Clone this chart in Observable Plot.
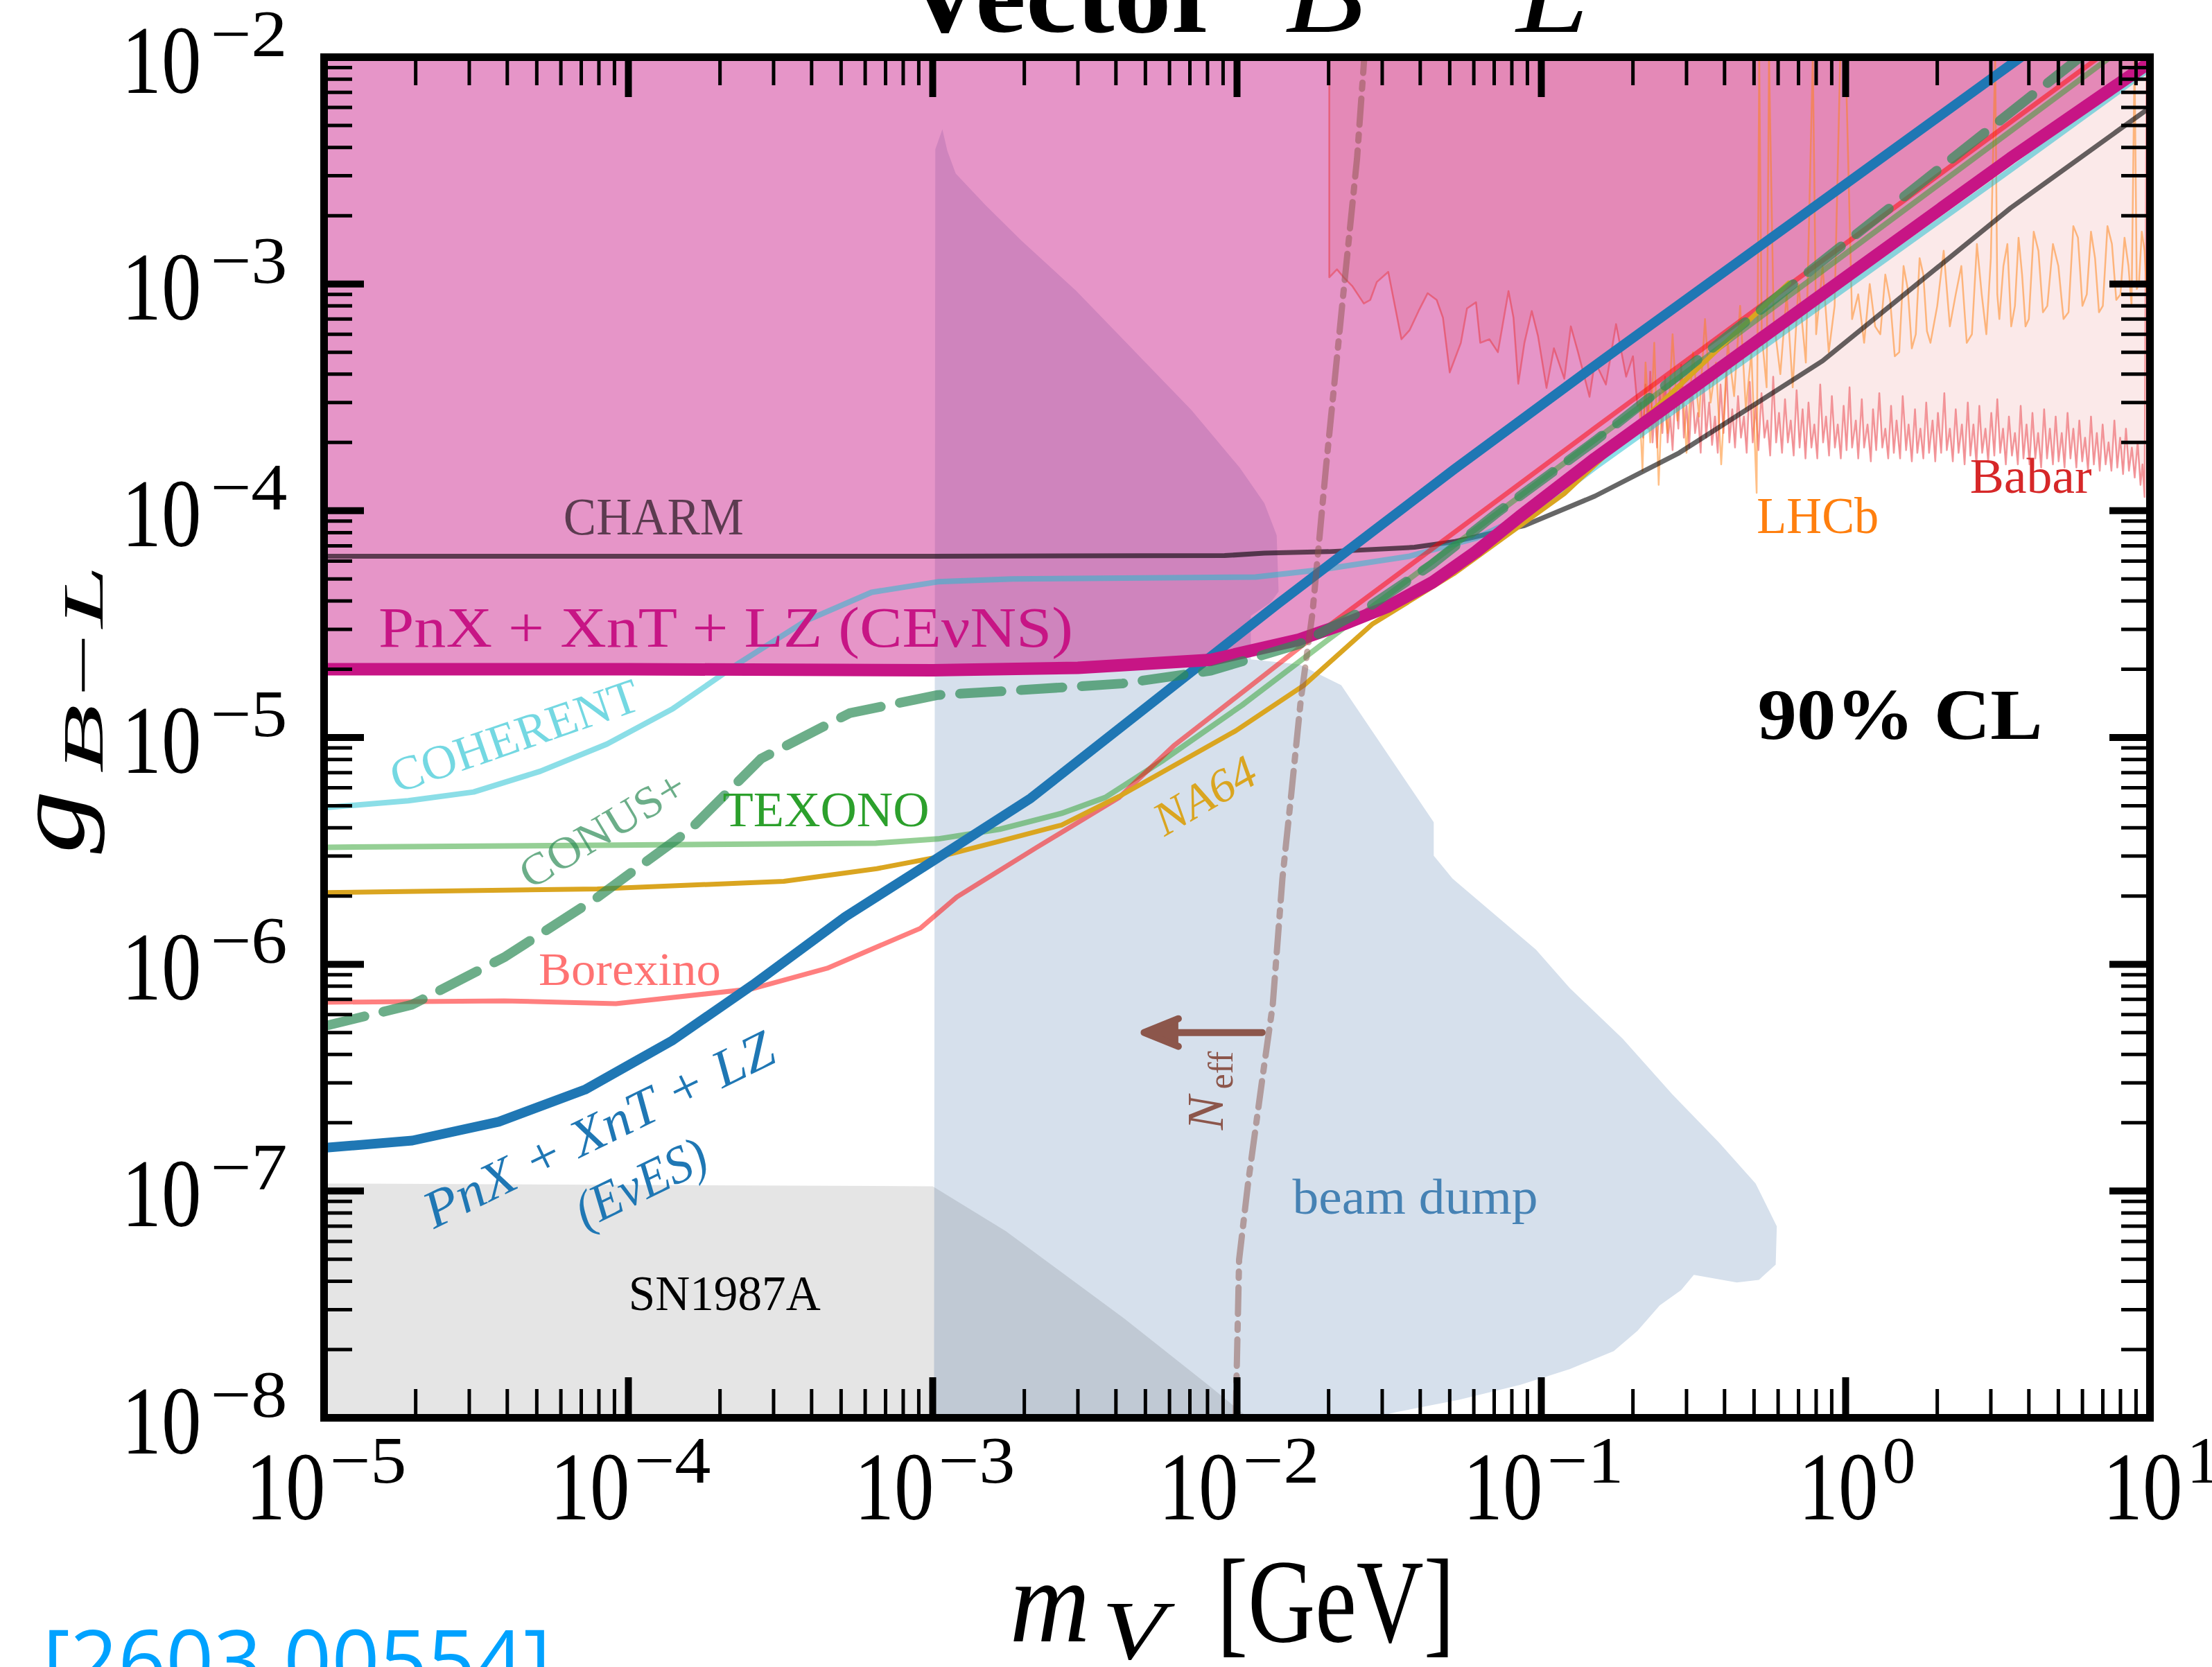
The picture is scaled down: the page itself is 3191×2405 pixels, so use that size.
<!DOCTYPE html>
<html><head><meta charset="utf-8">
<script src="https://cdn.jsdelivr.net/npm/d3@7"></script>
<script src="https://cdn.jsdelivr.net/npm/@observablehq/plot@0.6"></script>
<style>html,body{margin:0;padding:0;background:#fff;overflow:hidden}</style>
</head><body><div id="chart"></div>
<script>
// ---------------- data (m_V [GeV], g_{B-L}) ----------------
const cevns = [[1e-5,2.0e-5],[1e-4,2.0e-5],[1e-3,1.98e-5],[3e-3,2.03e-5],[8.2e-3,2.2e-5],[1.6e-2,2.7e-5],[2.24e-2,3.16e-5],[3.12e-2,3.77e-5],[4.37e-2,4.82e-5],[6.1e-2,6.6e-5],[8.55e-2,9.5e-5],[0.15,1.7e-4],[3.48,3.58e-3],[10,9.5e-3]];
const eves = [[1e-5,1.55e-7],[1.95e-5,1.67e-7],[3.75e-5,2.02e-7],[7.2e-5,2.8e-7],[1.39e-4,4.6e-7],[2.56e-4,8.1e-7],[5.16e-4,1.62e-6],[1e-3,2.85e-6],[2.1e-3,5.4e-6],[1.35e-2,3.85e-5],[5.16e-2,1.52e-4],[0.15,4.37e-4],[4.0,1.06e-2]];
const charm = [[1e-5,6.3e-5],[1e-3,6.3e-5],[9.1e-3,6.34e-5],[1.23e-2,6.5e-5],[2e-2,6.6e-5],[3.83e-2,6.9e-5],[5.16e-2,7.3e-5],[8.8e-2,8.6e-5],[0.15,1.16e-4],[0.284,1.8e-4],[0.84,4.58e-4],[3.48,2.16e-3],[10,6.0e-3]];
const coherent = [[1e-5,4.9e-6],[1.89e-5,5.26e-6],[3.1e-5,5.75e-6],[5.14e-5,7.1e-6],[8.5e-5,9.35e-6],[1.4e-4,1.34e-5],[2.31e-4,2.13e-5],[3.83e-4,3.27e-5],[6.3e-4,4.37e-5],[1.04e-3,4.86e-5],[1.83e-3,5.0e-5],[1.15e-2,5.1e-5],[1.9e-2,5.5e-5],[3.69e-2,6.3e-5],[6.1e-2,7.57e-5],[0.101,1.04e-4],[0.15,1.55e-4],[3.48,3.18e-3],[10,8.9e-3]];
const texono = [[1e-5,3.28e-6],[6.5e-4,3.42e-6],[1.04e-3,3.57e-6],[1.66e-3,3.94e-6],[2.65e-3,4.63e-6],[3.69e-3,5.44e-6],[5.65e-3,7.85e-6],[1.04e-2,1.39e-5],[2.0e-2,2.71e-5],[0.15,2.05e-4],[7.4,1.0e-2]];
const na64 = [[1e-5,2.07e-6],[7.9e-5,2.15e-6],[3.24e-4,2.32e-6],[6.55e-4,2.64e-6],[1.04e-3,2.97e-6],[1.66e-3,3.49e-6],[2.65e-3,4.11e-6],[4.1e-3,5.5e-6],[9.9e-3,1.07e-5],[1.66e-2,1.7e-5],[2.78e-2,3.16e-5],[5.16e-2,5.28e-5],[0.119,1.19e-4],[0.65,1.01e-3]];
const borexino = [[1e-5,6.8e-7],[3.9e-5,6.9e-7],[9.1e-5,6.7e-7],[2.56e-4,7.8e-7],[4.5e-4,9.6e-7],[9.1e-4,1.44e-6],[1.2e-3,1.98e-6],[2.2e-3,3.28e-6],[4.1e-3,5.44e-6],[6.2e-3,9.2e-6],[1.09e-2,1.66e-5],[1.66e-2,2.58e-5],[0.15,2.32e-4],[6.8,1.0e-2]];
const conus = [[1e-5,5.33e-7],[1.95e-5,6.64e-7],[3.94e-5,1.08e-6],[7.94e-5,1.98e-6],[1.6e-4,3.94e-6],[2.73e-4,8.07e-6],[5.33e-4,1.28e-5],[1.04e-3,1.54e-5],[1.83e-3,1.61e-5],[4.2e-3,1.73e-5],[8.2e-3,1.97e-5],[1.6e-2,2.58e-5],[2.65e-2,3.69e-5],[4.37e-2,5.8e-5],[7.23e-2,9.9e-5],[0.15,2.03e-4],[5.9,1.0e-2]];
const neff = [[9.9e-3,1e-8],[1.016e-2,4.98e-8],[1.087e-2,1.08e-7],[1.22e-2,3.36e-7],[1.31e-2,6.6e-7],[1.41e-2,2.39e-6],[1.51e-2,5.75e-6],[1.62e-2,1.46e-5],[1.77e-2,3.54e-5],[1.96e-2,1.55e-4],[2.24e-2,9.3e-4],[2.48e-2,3.58e-3],[2.62e-2,1e-2]];
const neffArrow = [{m1: 1.21e-2, m2: 4.95e-3, g: 5.0e-7}];
const beamDump = [[1.01e-3,1e-8],[1.02e-3,3.93e-3],[1.076e-3,4.81e-3],[1.117e-3,3.87e-3],[1.19e-3,3.07e-3],[1.49e-3,2.23e-3],[1.95e-3,1.56e-3],[2.96e-3,9.33e-4],[4.51e-3,5.2e-4],[7.08e-3,2.78e-4],[1.02e-2,1.55e-4],[1.23e-2,1.08e-4],[1.35e-2,7.8e-5],[1.37e-2,4.4e-5],[1.29e-2,3.94e-5],[1.11e-2,3.44e-5],[1.11e-2,2.21e-5],[1.6e-2,2.1e-5],[2.2e-2,1.7e-5],[4.43e-2,4.23e-6],[4.43e-2,3.01e-6],[5.1e-2,2.39e-6],[9.6e-2,1.16e-6],[0.124,7.86e-7],[0.185,4.7e-7],[0.27,2.66e-7],[0.383,1.64e-7],[0.506,1.08e-7],[0.594,6.99e-8],[0.589,4.74e-8],[0.519,4.06e-8],[0.439,3.95e-8],[0.317,4.27e-8],[0.288,3.66e-8],[0.245,3.13e-8],[0.207,2.42e-8],[0.173,1.97e-8],[0.124,1.64e-8],[8.55e-2,1.4e-8],[5.36e-2,1.2e-8],[3.34e-2,1.06e-8],[2.78e-2,1e-8]];
const sn1987a = [[1e-5,1e-8],[1e-5,1.08e-7],[1e-3,1.05e-7],[1.74e-3,6.65e-8],[4.26e-3,2.74e-8],[8.18e-3,1.37e-8],[1.09e-2,1e-8]];
// Babar: low-mass part (inside the pink region)
const babarLow = [[0.0201,1e-2],[0.0201,1.07e-3],[0.0213,1.16e-3],[0.0224,1.07e-3],[0.0239,9.8e-4],[0.0261,8.2e-4],[0.0274,8.5e-4],[0.0288,1.02e-3],[0.0314,1.13e-3],[0.0347,5.7e-4],[0.0369,6.25e-4],[0.0395,7.6e-4],[0.0423,9.1e-4],[0.0453,8.5e-4],[0.0475,7.1e-4],[0.050,4.07e-4],[0.0544,5.5e-4],[0.057,7.8e-4],[0.061,8.3e-4],[0.063,5.5e-4],[0.0675,5.7e-4],[0.072,5.0e-4],[0.078,9.3e-4],[0.081,7.1e-4],[0.084,3.63e-4],[0.088,5.5e-4],[0.093,7.6e-4],[0.0975,5.9e-4],[0.104,3.48e-4],[0.11,5.2e-4],[0.119,3.82e-4],[0.125,6.5e-4],[0.132,5.0e-4],[0.144,3.18e-4],[0.15,4.55e-4],[0.163,3.6e-4],[0.176,6.65e-4],[0.19,3.9e-4],[0.2,4.8e-4],[0.207,2.9e-4]];
// Babar: dense band above 0.21 GeV, g in units of 1e-4
const babarBand = [[0.212,3.0],[0.216,2.1],[0.220,3.6],[0.224,2.3],[0.228,4.1],[0.232,2.0],[0.236,2.8],[0.240,1.9],[0.245,3.3],[0.250,2.2],[0.255,3.9],[0.260,2.0],[0.265,2.6],[0.270,1.85],[0.276,3.4],[0.282,2.3],[0.288,4.4],[0.294,2.1],[0.300,2.9],[0.306,1.9],[0.313,3.5],[0.320,2.2],[0.327,2.7],[0.334,1.8],[0.341,3.8],[0.348,2.1],[0.356,3.0],[0.364,1.95],[0.372,2.6],[0.380,1.8],[0.388,3.6],[0.397,2.2],[0.406,4.2],[0.415,2.0],[0.424,2.8],[0.433,1.9],[0.443,3.2],[0.453,2.1],[0.463,2.6],[0.473,1.8],[0.484,3.7],[0.495,2.0],[0.506,2.9],[0.517,1.85],[0.529,3.3],[0.541,2.1],[0.553,2.5],[0.565,1.75],[0.578,3.9],[0.591,2.0],[0.604,2.7],[0.618,1.8],[0.632,3.1],[0.646,2.0],[0.660,2.5],[0.675,1.75],[0.690,3.4],[0.706,1.9],[0.722,2.8],[0.738,1.7],[0.755,3.0],[0.772,1.9],[0.789,2.4],[0.807,1.7],[0.825,3.6],[0.843,2.0],[0.862,2.6],[0.882,1.75],[0.901,3.2],[0.922,1.9],[0.942,2.4],[0.964,1.7],[0.985,2.9],[1.007,1.85],[1.03,3.5],[1.05,1.9],[1.08,2.5],[1.10,1.7],[1.13,3.1],[1.15,1.9],[1.18,2.4],[1.21,1.65],[1.23,2.8],[1.26,1.85],[1.29,3.3],[1.32,1.9],[1.35,2.3],[1.38,1.7],[1.41,2.9],[1.44,1.8],[1.47,2.5],[1.51,1.7],[1.54,3.2],[1.58,1.85],[1.61,2.4],[1.65,1.65],[1.69,2.8],[1.72,1.8],[1.76,2.3],[1.80,1.7],[1.84,3.0],[1.88,1.8],[1.93,2.5],[1.97,1.65],[2.01,2.7],[2.06,1.8],[2.11,3.3],[2.15,1.85],[2.20,2.3],[2.25,1.65],[2.30,2.8],[2.35,1.8],[2.41,2.4],[2.46,1.6],[2.52,3.0],[2.57,1.75],[2.63,2.4],[2.69,1.6],[2.75,2.9],[2.81,1.8],[2.88,2.3],[2.94,1.65],[3.01,2.7],[3.08,1.75],[3.15,3.1],[3.22,1.8],[3.29,2.3],[3.36,1.6],[3.44,2.6],[3.52,1.75],[3.60,2.2],[3.68,1.6],[3.76,2.9],[3.84,1.7],[3.93,2.4],[4.02,1.6],[4.11,2.7],[4.20,1.7],[4.29,2.2],[4.39,1.55],[4.49,2.8],[4.59,1.7],[4.69,2.3],[4.80,1.6],[4.90,2.6],[5.01,1.65],[5.13,2.2],[5.24,1.55],[5.36,2.7],[5.48,1.7],[5.60,2.3],[5.73,1.55],[5.86,2.5],[5.99,1.65],[6.12,2.1],[6.26,1.5],[6.40,2.6],[6.54,1.6],[6.69,2.2],[6.84,1.5],[6.99,2.4],[7.15,1.6],[7.31,2.0],[7.47,1.5],[7.64,2.5],[7.81,1.55],[7.98,2.1],[8.16,1.45],[8.34,2.3],[8.53,1.5],[8.72,1.9],[8.91,1.4],[9.11,2.0],[9.31,1.3],[9.45,1.6],[9.6,1.15],[9.75,100],[9.85,1.1],[10,1.2]];
const lhcb = [[0.21,3.0e-4],[0.215,1.5e-4],[0.22,4.5e-4],[0.228,2.0e-4],[0.235,5.5e-4],[0.243,1.3e-4],[0.25,3.5e-4],[0.26,2.2e-4],[0.27,6.0e-4],[0.28,2.5e-4],[0.29,4.0e-4],[0.30,1.8e-4],[0.315,5.0e-4],[0.33,2.6e-4],[0.345,7.0e-4],[0.36,3.0e-4],[0.375,4.5e-4],[0.39,1.6e-4],[0.41,5.5e-4],[0.43,3.2e-4],[0.45,8.0e-4],[0.47,2.8e-4],[0.49,5.0e-4],[0.51,1.2e-4],[0.52,1e-2],[0.53,6.0e-4],[0.55,3.5e-4],[0.56,1e-2],[0.58,7.0e-4],[0.61,4.0e-4],[0.64,9.0e-4],[0.67,3.5e-4],[0.7,1.0e-3],[0.74,4.5e-4],[0.78,1e-2],[0.8,6.0e-4],[0.84,1.2e-3],[0.88,5.0e-4],[0.92,8.0e-4],[0.96,1e-2],[1.0,1e-2],[1.05,7.0e-4],[1.1,9.0e-4],[1.15,5.5e-4],[1.2,1.0e-3],[1.25,6.5e-4],[1.3,6.0e-4],[1.35,1.1e-3],[1.4,8.5e-4],[1.45,4.8e-4],[1.5,5.0e-4],[1.55,1.2e-3],[1.6,9.5e-4],[1.65,5.2e-4],[1.7,6.0e-4],[1.75,1.3e-3],[1.8,1.1e-3],[1.85,6.2e-4],[1.9,5.5e-4],[2.0,8.0e-4],[2.1,1.4e-3],[2.2,6.5e-4],[2.3,9.0e-4],[2.4,1.2e-3],[2.5,5.5e-4],[2.6,6.0e-4],[2.7,1.5e-3],[2.8,9.0e-4],[2.9,6.0e-4],[3.0,1.3e-3],[3.1,1e-2],[3.15,9.0e-4],[3.2,7.0e-4],[3.3,1.2e-3],[3.4,1.5e-3],[3.5,6.5e-4],[3.6,8.0e-4],[3.7,1.6e-3],[3.8,1.1e-3],[3.9,6.5e-4],[4.0,7.0e-4],[4.15,1.7e-3],[4.3,1.4e-3],[4.45,7.5e-4],[4.6,8.0e-4],[4.8,1.5e-3],[5.0,1.2e-3],[5.2,7.0e-4],[5.4,7.5e-4],[5.6,1.8e-3],[5.8,1.6e-3],[6.0,8.0e-4],[6.2,9.0e-4],[6.4,1.7e-3],[6.6,1.3e-3],[6.8,7.5e-4],[7.0,8.0e-4],[7.25,1.8e-3],[7.5,1.5e-3],[7.75,8.5e-4],[8.0,9.0e-4],[8.25,1.6e-3],[8.5,1.2e-3],[8.7,8.0e-4],[8.9,1e-2],[9.05,9.5e-4],[9.2,1.0e-3],[9.4,1.7e-3],[9.6,1.4e-3],[9.8,8.0e-4],[10,9e-4]];
const xTickExp = [-5,-4,-3,-2,-1,0,1];
const yTickExp = [-8,-7,-6,-5,-4,-3,-2];

// ---------------- layout / style ----------------
const W = 3191, H = 2405;
const mL = 467, mR = 90, mT = 82, mB = 360;
const PW = W - mL - mR, PH = H - mT - mB;
const serif = "Liberation Serif, Times New Roman, serif";
const xMinor = [], yMinor = [];
for (let k = -5; k <= 0; k++) for (let j = 2; j <= 9; j++) xMinor.push(j * 10 ** k);
for (let k = -8; k <= -3; k++) for (let j = 2; j <= 9; j++) yMinor.push(j * 10 ** k);
const xMajor = xTickExp.map(e => 10 ** e), yMajor = yTickExp.map(e => 10 ** e);
const babar = babarLow.concat(babarBand.map(([m, g]) => [m, g * 1e-4]));
const getM = d => d[0], getG = d => d[1];
const supText = e => e < 0 ? "\u2212" + (-e) : String(e);
const yTop = () => 1e-2;

const T = (data, o) => Plot.text(data, {fontFamily: serif, ...o});

const chart = Plot.plot({
  width: W, height: H,
  marginLeft: mL, marginRight: mR, marginTop: mT, marginBottom: mB,
  x: {type: "log", domain: [1e-5, 10], axis: null},
  y: {type: "log", domain: [1e-8, 1e-2], axis: null},
  style: {background: "#fff"},
  marks: [
    Plot.line(beamDump, {x: getM, y: getG, fill: "#D6E0EC", stroke: "none", clip: true}),
    Plot.line(sn1987a, {x: getM, y: getG, fill: "#000", fillOpacity: 0.1, stroke: "none", clip: true}),
    Plot.areaY(cevns, {x: getM, y1: getG, y2: yTop, fill: "#C71585", fillOpacity: 0.45, clip: true}),
    Plot.areaY(babar, {x: getM, y1: getG, y2: yTop, fill: "#D62728", fillOpacity: 0.1, clip: true}),
    Plot.line(babar, {x: getM, y: getG, stroke: "#E8343C", strokeOpacity: 0.5, strokeWidth: 2.5, clip: true}),
    Plot.line(lhcb, {x: getM, y: getG, stroke: "#FF7F0E", strokeOpacity: 0.5, strokeWidth: 2.5, clip: true}),
    Plot.line(charm, {x: getM, y: getG, stroke: "#000", strokeOpacity: 0.6, strokeWidth: 7, clip: true}),
    Plot.line(coherent, {x: getM, y: getG, stroke: "#17BECF", strokeOpacity: 0.5, strokeWidth: 8, clip: true}),
    Plot.line(texono, {x: getM, y: getG, stroke: "#2CA02C", strokeOpacity: 0.5, strokeWidth: 8, clip: true}),
    Plot.line(borexino, {x: getM, y: getG, stroke: "#FF0000", strokeOpacity: 0.5, strokeWidth: 7, clip: true}),
    Plot.line(na64, {x: getM, y: getG, stroke: "#DAA520", strokeWidth: 7, clip: true}),
    Plot.line(eves, {x: getM, y: getG, stroke: "#1F77B4", strokeWidth: 14, clip: true}),
    Plot.line(cevns, {x: getM, y: getG, stroke: "#C71585", strokeWidth: 18, clip: true}),
    Plot.line(conus, {x: getM, y: getG, stroke: "#2E8B57", strokeOpacity: 0.7, strokeWidth: 14, strokeDasharray: "60,28", clip: true}),
    Plot.line(neff, {x: getM, y: getG, stroke: "#8C564B", strokeOpacity: 0.5, strokeWidth: 9, strokeDasharray: "38,14,9,14", clip: true}),
    Plot.arrow(neffArrow, {x1: "m1", x2: "m2", y1: "g", y2: "g", stroke: "#8C564B", fill: "#8C564B", strokeWidth: 10, headAngle: 44, headLength: 8}),

    // annotations
    T(["CHARM"], {x: 1.21e-4, y: 7.88e-5, text: d => d, fontSize: 77, fill: "#000", fillOpacity: 0.6, lineAnchor: "bottom"}),
    T(["PnX + XnT + LZ (CE\u03BDNS)"], {x: 1.51e-5, y: 2.51e-5, text: d => d, fontSize: 83, fill: "#C71585", textAnchor: "start", lineAnchor: "bottom"}),
    T(["TEXONO"], {x: 4.46e-4, y: 4.06e-6, text: d => d, fontSize: 71, fill: "#2CA02C", lineAnchor: "bottom"}),
    T(["Borexino"], {x: 1.01e-4, y: 8.09e-7, text: d => d, fontSize: 68, fill: "#FF0000", fillOpacity: 0.55, lineAnchor: "bottom"}),
    T(["beam dump"], {x: 3.85e-2, y: 7.93e-8, text: d => d, fontSize: 72, fill: "#4682B4", lineAnchor: "bottom"}),
    T(["SN1987A"], {x: 2.07e-4, y: 2.98e-8, text: d => d, fontSize: 72, fill: "#000", lineAnchor: "bottom"}),
    T(["90% CL"], {x: 1.51, y: 9.84e-6, text: d => d, fontSize: 104, fontWeight: "bold", fill: "#000", lineAnchor: "bottom"}),
    T(["LHCb"], {x: 0.81, y: 8.0e-5, text: d => d, fontSize: 75, fill: "#FF7F0E", lineAnchor: "bottom"}),
    T(["Babar"], {x: 4.06, y: 1.2e-4, text: d => d, fontSize: 72, fill: "#D62728", lineAnchor: "bottom"}),
    T(["COHERENT"], {x: 4.23e-5, y: 1.01e-5, text: d => d, rotate: -19, fontSize: 70, fill: "#17BECF", fillOpacity: 0.6}),
    T(["CONUS+"], {x: 8.24e-5, y: 3.91e-6, text: d => d, rotate: -31, fontSize: 64, fill: "#2E8B57", fillOpacity: 0.7}),
    T(["NA64"], {x: 7.85e-3, y: 5.52e-6, text: d => d, rotate: -30, fontSize: 68, fontStyle: "italic", fill: "#DAA520"}),
    T(["PnX + XnT + LZ"], {x: 8.0e-5, y: 1.86e-7, text: d => d, rotate: -26, fontSize: 76, fontStyle: "italic", fill: "#1F77B4"}),
    T(["(E\u03BDES)"], {x: 1.1e-4, y: 1.08e-7, text: d => d, rotate: -26, fontSize: 76, fontStyle: "italic", fill: "#1F77B4"}),
    T(["N"], {x: 8.99e-3, y: 1.86e-7, text: d => d, rotate: -90, fontSize: 74, fontStyle: "italic", fill: "#8C564B", textAnchor: "start", lineAnchor: "bottom"}),
    T(["eff"], {x: 9.68e-3, y: 2.81e-7, text: d => d, rotate: -90, fontSize: 50, fill: "#8C564B", textAnchor: "start", lineAnchor: "bottom"}),

    // ticks (inward, mirrored)
    Plot.ruleX(xMinor, {x: d => d, insetTop: PH - 41, stroke: "#000", strokeWidth: 5}),
    Plot.ruleX(xMinor, {x: d => d, insetBottom: PH - 41, stroke: "#000", strokeWidth: 5}),
    Plot.ruleX(xMajor, {x: d => d, insetTop: PH - 58, stroke: "#000", strokeWidth: 10}),
    Plot.ruleX(xMajor, {x: d => d, insetBottom: PH - 58, stroke: "#000", strokeWidth: 10}),
    Plot.ruleY(yMinor, {y: d => d, insetRight: PW - 41, stroke: "#000", strokeWidth: 5}),
    Plot.ruleY(yMinor, {y: d => d, insetLeft: PW - 41, stroke: "#000", strokeWidth: 5}),
    Plot.ruleY(yMajor, {y: d => d, insetRight: PW - 58, stroke: "#000", strokeWidth: 10}),
    Plot.ruleY(yMajor, {y: d => d, insetLeft: PW - 58, stroke: "#000", strokeWidth: 10}),
    Plot.frame({stroke: "#000", strokeWidth: 11}),

    // tick labels
    T(xTickExp.filter(e => e < 0), {x: e => 10 ** e, text: () => "10", frameAnchor: "bottom", dx: 2, dy: 146, textAnchor: "end", lineAnchor: "bottom", fontSize: 140, fill: "#000"}),
    T(xTickExp.filter(e => e >= 0), {x: e => 10 ** e, text: () => "10", frameAnchor: "bottom", dx: 47, dy: 146, textAnchor: "end", lineAnchor: "bottom", fontSize: 140, fill: "#000"}),
    T(xTickExp.filter(e => e < 0), {x: e => 10 ** e, text: supText, frameAnchor: "bottom", dx: 8, dy: 93, textAnchor: "start", lineAnchor: "bottom", fontSize: 96, fill: "#000"}),
    T(xTickExp.filter(e => e >= 0), {x: e => 10 ** e, text: supText, frameAnchor: "bottom", dx: 53, dy: 93, textAnchor: "start", lineAnchor: "bottom", fontSize: 96, fill: "#000"}),
    T(yTickExp, {y: e => 10 ** e, text: () => "10", frameAnchor: "left", dx: -177, dy: 51, textAnchor: "end", lineAnchor: "bottom", fontSize: 140, fill: "#000"}),
    T(yTickExp, {y: e => 10 ** e, text: supText, frameAnchor: "left", dx: -53, dy: -2, textAnchor: "end", lineAnchor: "bottom", fontSize: 96, fill: "#000"}),

    // axis labels
    T(["m"], {text: d => d, frameAnchor: "bottom-left", dx: 989, dy: 322, textAnchor: "start", lineAnchor: "bottom", fontSize: 172, fontStyle: "italic", fill: "#000"}),
    T(["V"], {text: d => d, frameAnchor: "bottom-left", dx: 1122, dy: 347, textAnchor: "start", lineAnchor: "bottom", fontSize: 121, fontStyle: "italic", fill: "#000"}),
    T(["[GeV]"], {text: d => d, frameAnchor: "bottom-left", dx: 1288, dy: 322, textAnchor: "start", lineAnchor: "bottom", fontSize: 172, fill: "#000"}),
    T(["g"], {text: d => d, frameAnchor: "left", dx: -347, dy: 167.5, rotate: -90, textAnchor: "start", lineAnchor: "bottom", fontSize: 142, fontStyle: "italic", fill: "#000"}),
    T(["B\u2212L"], {text: d => d, frameAnchor: "left", dx: -320, dy: 51.5, rotate: -90, textAnchor: "start", lineAnchor: "bottom", fontSize: 83, fontStyle: "italic", fill: "#000"}),

    // title (cut by the top edge) and caption (cut by the bottom edge)
    T(["Vector"], {text: d => d, frameAnchor: "top", dx: -22, dy: -37, textAnchor: "end", lineAnchor: "bottom", fontSize: 159, fontWeight: "bold", fill: "#000"}),
    T(["B \u2212 L"], {text: d => d, frameAnchor: "top", dx: 69, dy: -37, textAnchor: "start", lineAnchor: "bottom", fontSize: 159, fontStyle: "italic", fill: "#000"}),
    Plot.text(["[2603.00554]"], {text: d => d, frameAnchor: "bottom-left", dx: -406, dy: 394, textAnchor: "start", lineAnchor: "bottom", fontSize: 122, fontFamily: "Open Sans, sans-serif", fill: "#00A2FF"})
  ]
});

// match the reference's (condensed) glyph widths
const textWidths = {
  "10": 115, "\u22122": 111, "\u22123": 111, "\u22124": 111, "\u22125": 111, "\u22126": 111, "\u22127": 111, "\u22128": 111, "\u22121": 111,
  "m": 116, "V": 91, "[GeV]": 343, "g": 91, "B\u2212L": 300,
  "CHARM": 260, "PnX + XnT + LZ (CE\u03BDNS)": 1002, "TEXONO": 298, "Borexino": 263, "beam dump": 354, "SN1987A": 277,
  "90% CL": 411, "LHCb": 176, "Babar": 176, "COHERENT": 375, "CONUS+": 268, "NA64": 160,
  "PnX + XnT + LZ": 553, "(E\u03BDES)": 203, "Vector": 459, "B \u2212 L": 438, "[2603.00554]": 733
};
chart.querySelectorAll("text").forEach(t => {
  const w = textWidths[t.textContent];
  if (w) { t.setAttribute("textLength", w); t.setAttribute("lengthAdjust", "spacingAndGlyphs"); }
});
document.getElementById("chart").appendChild(chart);
</script>
</body></html>
